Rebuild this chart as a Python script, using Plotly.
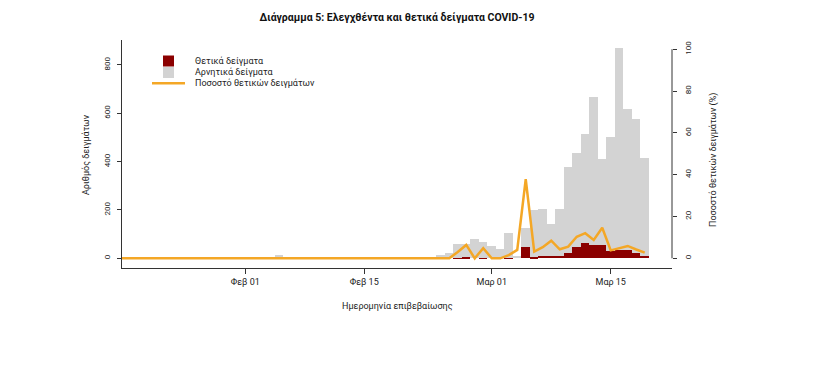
import plotly.graph_objects as go
import pandas as pd

# ---------------- data ----------------
dates = pd.date_range("2020-01-17", "2020-03-19", freq="D")

total_jan = [0, 0, 0, 0, 0, 0, 0, 0, 0, 0, 0, 3, 0, 0, 0]            # Jan 17-31
total_feb = [0, 0, 0, 0, 15, 0, 0, 0, 0, 0, 0, 0, 0, 0, 0, 3, 0, 0, 3, 2,
             0, 0, 4, 12, 22, 60, 60, 80, 66]                          # Feb 1-29
total_mar = [52, 40, 103, 10, 127, 200, 204, 142, 204, 379, 434, 514, 666,
             410, 503, 869, 618, 575, 414]                             # Mar 1-19

pos_jan = [0, 0, 0, 0, 0, 0, 0, 0, 0, 0, 0, 0, 0, 0, 0]
pos_feb = [0, 0, 0, 0, 0, 0, 0, 0, 0, 0, 0, 0, 0, 0, 0, 0, 0, 0, 0, 0,
           0, 0, 0, 0, 0, 2, 4, 0, 3]
pos_mar = [0, 0, 2, 0, 45, 6, 10, 11, 9, 21, 45, 62, 57, 57, 30, 34, 34, 21, 10]

pct_jan = [0, 0, 0, 0, 0, 0, 0, 0, 0, 0, 0, 0, 0, 0, 0]
pct_feb = [0, 0, 0, 0, 0, 0, 0, 0, 0, 0, 0, 0, 0, 0, 0, 0, 0, 0, 0, 0,
           0, 0, 0, 0, 0, 3.0, 6.4, 0, 4.8]
pct_mar = [0, 0, 1.5, 4.0, 37.8, 3.2, 5.3, 8.4, 4.3, 5.6, 10.3, 12.0, 8.8,
           14.6, 3.8, 4.8, 5.9, 4.2, 2.7]

total = total_jan + total_feb + total_mar
positive = pos_jan + pos_feb + pos_mar
percent = pct_jan + pct_feb + pct_mar
negative = [t - p for t, p in zip(total, positive)]

x_tickvals = ["2020-02-01", "2020-02-15", "2020-03-01", "2020-03-15"]
x_ticktext = ["Φεβ 01", "Φεβ 15", "Μαρ 01", "Μαρ 15"]
y_tickvals = [0, 200, 400, 600, 800]
y2_tickvals = [0, 20, 40, 60, 80, 100]

title = "Διάγραμμα 5: Ελεγχθέντα και θετικά δείγματα COVID-19"
x_title = "Ημερομηνία επιβεβαίωσης"
y_title = "Αριθμός δειγμάτων"
y2_title = "Ποσοστό θετικών δειγμάτων (%)"
legend_labels = ["Θετικά δείγματα", "Αρνητικά δείγματα", "Ποσοστό θετικών δειγμάτων"]

RED = "#8B0000"
GRAY = "#D3D3D3"
ORANGE = "#F4A726"
AXIS = "#333333"
FONT = "Roboto"
TXT = "#222222"

# ---------------- layout geometry (screen pixels) ----------------
OFF = 8                      # default page body margin
W, H = 820 - OFF, 371 - OFF
PL, PR, PT, PB = 122, 672, 40, 268   # plot area on screen
ML, MT = PL - OFF, PT - OFF
MR = W - ML - (PR - PL)
MB = H - MT - (PB - PT)
PW, PH = PR - PL, PB - PT


def px2x(px):
    return (px - PL) / PW


def py2y(py):
    return (PB - py) / PH


DAY = 86400000

fig = go.Figure()
fig.add_trace(go.Bar(x=dates, y=positive, width=DAY, marker=dict(color=RED, line=dict(width=0)),
                     name=legend_labels[0], showlegend=False))
fig.add_trace(go.Bar(x=dates, y=negative, width=DAY, marker=dict(color=GRAY, line=dict(width=0)),
                     name=legend_labels[1], showlegend=False))
fig.add_trace(go.Scatter(x=dates, y=percent, mode="lines", yaxis="y2",
                         line=dict(color=ORANGE, width=2.5), name=legend_labels[2],
                         showlegend=False))

fig.update_layout(
    width=W, height=H,
    margin=dict(l=ML, r=MR, t=MT, b=MB, autoexpand=False),
    paper_bgcolor="white", plot_bgcolor="white",
    barmode="stack", bargap=0,
    font=dict(family=FONT, size=9, color=TXT),
    title=dict(text="<b>" + title + "</b>", x=px2x(397), xref="paper", xanchor="center",
               y=1 - (17 - OFF) / H, yref="container", yanchor="middle", automargin=False,
               font=dict(family=FONT, size=10.5, color="#111111")),
    xaxis=dict(type="date", range=["2020-01-17 12:00", "2020-03-22 05:00"],
               tickvals=x_tickvals, ticktext=x_ticktext, automargin=False,
               showline=True, linecolor=AXIS, linewidth=1,
               ticks="outside", ticklen=5, tickcolor=AXIS,
               showgrid=False, zeroline=False,
               tickfont=dict(size=9, family=FONT, color=TXT)),
    yaxis=dict(range=[-40.1, 903.3], tickvals=y_tickvals, automargin=False,
               showline=True, linecolor=AXIS, linewidth=1,
               ticks="outside", ticklen=4, tickcolor=AXIS, ticklabelstandoff=4,
               tickangle=-90, showgrid=False, zeroline=False,
               tickfont=dict(size=8, family=FONT, color=TXT)),
    yaxis2=dict(range=[-4.64, 104.4], tickvals=y2_tickvals, overlaying="y", side="right",
                automargin=False,
                showline=False, ticks="outside", ticklen=4, tickcolor=AXIS, ticklabelstandoff=4,
                tickangle=-90, showgrid=False, zeroline=False,
                tickfont=dict(size=8, family=FONT, color=TXT)),
)

# right axis line spanning 0..100 only
fig.add_shape(type="line", xref="paper", yref="y2", x0=1, x1=1, y0=0, y1=100,
              line=dict(color=AXIS, width=1))

# axis titles
fig.add_annotation(text=x_title, xref="paper", yref="paper", x=px2x(397), y=py2y(306),
                   showarrow=False, xanchor="center", yanchor="middle",
                   font=dict(size=9, family=FONT, color=TXT))
fig.add_annotation(text=y_title, xref="paper", yref="paper", x=px2x(86), y=py2y(155),
                   showarrow=False, textangle=-90, xanchor="center", yanchor="middle",
                   font=dict(size=9, family=FONT, color=TXT))
fig.add_annotation(text=y2_title, xref="paper", yref="paper", x=px2x(713), y=py2y(160),
                   showarrow=False, textangle=-90, xanchor="center", yanchor="middle",
                   font=dict(size=9, family=FONT, color=TXT))

# custom legend
fig.add_shape(type="rect", xref="paper", yref="paper", x0=px2x(163), x1=px2x(174),
              y0=py2y(66.5), y1=py2y(55.5), fillcolor=RED, line=dict(width=0))
fig.add_shape(type="rect", xref="paper", yref="paper", x0=px2x(163), x1=px2x(174),
              y0=py2y(78), y1=py2y(67), fillcolor=GRAY, line=dict(width=0))
fig.add_shape(type="line", xref="paper", yref="paper", x0=px2x(152), x1=px2x(185),
              y0=py2y(83.3), y1=py2y(83.3), line=dict(color=ORANGE, width=2.5))
for lbl, yy in zip(legend_labels, [61, 72.3, 83.3]):
    fig.add_annotation(text=lbl, xref="paper", yref="paper", x=px2x(193), y=py2y(yy),
                       showarrow=False, xanchor="left", yanchor="middle",
                       font=dict(size=9, family=FONT, color=TXT))

fig.write_html("out.html")
